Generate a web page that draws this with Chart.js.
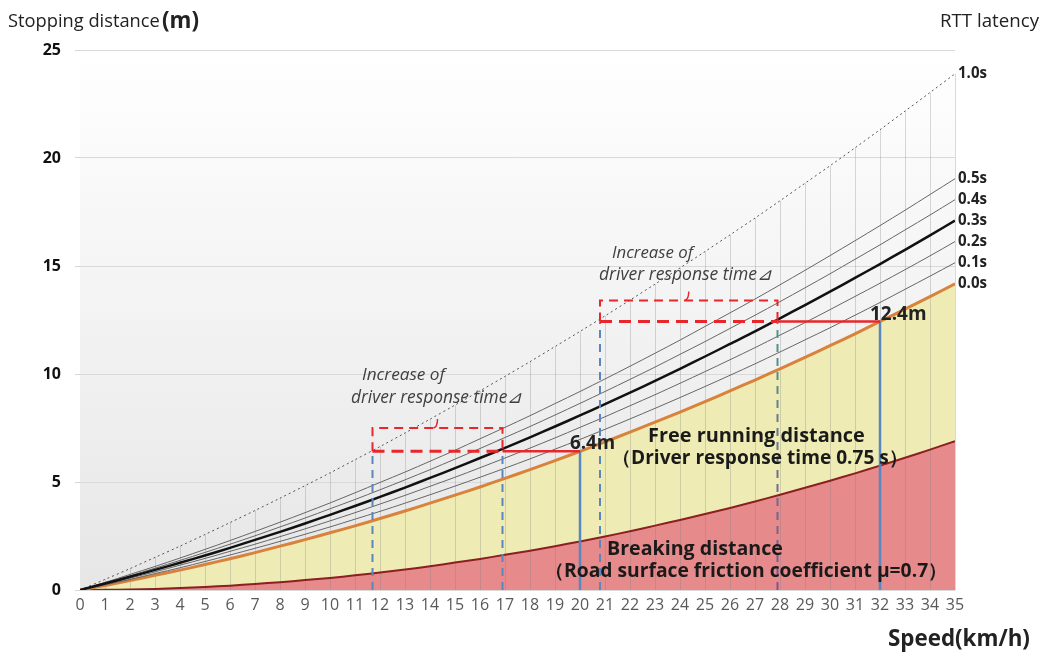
<!doctype html>
<html>

<head>
	<title>Stopping distance vs speed</title>
	<script src="https://cdn.jsdelivr.net/npm/chart.js@4/dist/chart.umd.min.js"></script>
	<style>
	body { margin: 0; background: #fff; }
	</style>
</head>

<body>
	<canvas id="canvas" width="1042" height="652"></canvas>
	<script>
		// speed in km/h, distances in m
		const speeds = [0, 1, 2, 3, 4, 5, 6, 7, 8, 9, 10, 11, 12, 13, 14, 15, 16, 17, 18, 19, 20, 21, 22, 23, 24, 25, 26, 27, 28, 29, 30, 31, 32, 33, 34, 35];
		const braking = [0, 0.01, 0.02, 0.05, 0.09, 0.14, 0.20, 0.28, 0.36, 0.46, 0.56, 0.68, 0.81, 0.95, 1.10, 1.27, 1.44, 1.63, 1.82, 2.03, 2.25, 2.48, 2.72, 2.98, 3.24, 3.52, 3.80, 4.10, 4.41, 4.73, 5.06, 5.40, 5.76, 6.12, 6.50, 6.89];
		const rtt00 = [0, 0.21, 0.44, 0.68, 0.92, 1.18, 1.45, 1.73, 2.03, 2.33, 2.65, 2.97, 3.31, 3.66, 4.02, 4.39, 4.77, 5.17, 5.57, 5.99, 6.42, 6.86, 7.31, 7.77, 8.24, 8.72, 9.22, 9.72, 10.24, 10.77, 11.31, 11.86, 12.43, 13.00, 13.58, 14.18];
		const rtt01 = [0, 0.24, 0.49, 0.76, 1.03, 1.32, 1.62, 1.93, 2.25, 2.58, 2.92, 3.28, 3.64, 4.02, 4.41, 4.81, 5.22, 5.64, 6.07, 6.52, 6.97, 7.44, 7.92, 8.41, 8.91, 9.42, 9.94, 10.47, 11.02, 11.58, 12.14, 12.72, 13.31, 13.92, 14.53, 15.15];
		const rtt02 = [0, 0.27, 0.55, 0.84, 1.15, 1.46, 1.79, 2.12, 2.47, 2.83, 3.20, 3.58, 3.98, 4.38, 4.80, 5.22, 5.66, 6.11, 6.57, 7.04, 7.53, 8.02, 8.53, 9.04, 9.57, 10.11, 10.66, 11.22, 11.80, 12.38, 12.98, 13.59, 14.20, 14.83, 15.47, 16.13];
		const rtt03 = [0, 0.30, 0.61, 0.93, 1.26, 1.60, 1.95, 2.32, 2.69, 3.08, 3.48, 3.89, 4.31, 4.74, 5.19, 5.64, 6.11, 6.58, 7.07, 7.57, 8.08, 8.61, 9.14, 9.68, 10.24, 10.81, 11.39, 11.97, 12.58, 13.19, 13.81, 14.45, 15.09, 15.75, 16.42, 17.10];
		const rtt04 = [0, 0.33, 0.66, 1.01, 1.37, 1.74, 2.12, 2.51, 2.92, 3.33, 3.76, 4.19, 4.64, 5.10, 5.57, 6.06, 6.55, 7.06, 7.57, 8.10, 8.64, 9.19, 9.75, 10.32, 10.91, 11.50, 12.11, 12.72, 13.35, 13.99, 14.64, 15.31, 15.98, 16.67, 17.36, 18.07];
		const rtt05 = [0, 0.35, 0.72, 1.09, 1.48, 1.88, 2.29, 2.71, 3.14, 3.58, 4.03, 4.50, 4.98, 5.46, 5.96, 6.47, 7.00, 7.53, 8.07, 8.63, 9.19, 9.77, 10.36, 10.96, 11.57, 12.20, 12.83, 13.47, 14.13, 14.80, 15.48, 16.17, 16.87, 17.58, 18.31, 19.04];
		const rtt10 = [0, 0.49, 0.99, 1.51, 2.03, 2.57, 3.12, 3.68, 4.25, 4.83, 5.42, 6.03, 6.64, 7.27, 7.91, 8.56, 9.22, 9.89, 10.57, 11.27, 11.97, 12.69, 13.42, 14.16, 14.91, 15.67, 16.44, 17.22, 18.02, 18.83, 19.64, 20.47, 21.31, 22.17, 23.03, 23.90];
		const rttLabels = ['1.0s', '0.5s', '0.4s', '0.3s', '0.2s', '0.1s', '0.0s'];
		const yTicks = [0, 5, 10, 15, 20, 25];

		// the two worked examples: 20 km/h -> 6.4m, 32 km/h -> 12.4m
		const examples = [
			{ from: 11.7, mid: 16.9, to: 20, dist: 6.42, top: 7.5, label: '6.4m' },
			{ from: 20.8, mid: 27.9, to: 32, dist: 12.43, top: 13.4, label: '12.4m' }
		];

		const FONT = '"Open Sans", "Noto Sans", sans-serif';
		const pts = (ys) => ys.map((y, i) => ({ x: speeds[i], y: y }));

		// draw text left-aligned at x, scaled so that it spans the given width
		function fitText(ctx, text, x, y, width, style) {
			ctx.font = style + ' 20px ' + FONT;
			const size = 20 * width / ctx.measureText(text).width;
			ctx.font = style + ' ' + size.toFixed(2) + 'px ' + FONT;
			ctx.fillText(text, x, y);
			return size;
		}

		const overlay = {
			id: 'overlay',
			beforeDraw(chart) {
				const { ctx, chartArea: a } = chart;
				const g = ctx.createLinearGradient(0, a.top, 0, a.bottom);
				g.addColorStop(0, '#ffffff');
				g.addColorStop(1, '#e6e6e6');
				ctx.save();
				ctx.fillStyle = g;
				ctx.fillRect(a.left, a.top, a.right - a.left, a.bottom - a.top);
				ctx.restore();
			},
			beforeDatasetsDraw(chart) {
				// drop lines from the 1.0s curve
				const { ctx, scales: { x, y } } = chart;
				ctx.save();
				ctx.strokeStyle = 'rgba(128,128,128,0.3)';
				ctx.lineWidth = 1;
				speeds.forEach((s, i) => {
					if (s === 0) return;
					const px = Math.round(x.getPixelForValue(s)) + 0.5;
					ctx.beginPath();
					ctx.moveTo(px, y.getPixelForValue(rtt10[i]));
					ctx.lineTo(px, y.getPixelForValue(0));
					ctx.stroke();
				});
				ctx.restore();
			},
			afterDatasetsDraw(chart) {
				const { ctx, scales: { x, y } } = chart;
				const X = (v) => x.getPixelForValue(v);
				const Y = (v) => y.getPixelForValue(v);
				const seg = (x1, y1, x2, y2, color, w, dash) => {
					ctx.beginPath();
					ctx.strokeStyle = color;
					ctx.lineWidth = w;
					ctx.setLineDash(dash || []);
					ctx.moveTo(X(x1), Y(y1));
					ctx.lineTo(X(x2), Y(y2));
					ctx.stroke();
				};
				ctx.save();
				examples.forEach((e, k) => {
					// bracket box
					ctx.beginPath();
					ctx.strokeStyle = '#e8262b';
					ctx.lineWidth = 2;
					ctx.setLineDash([9, 6]);
					ctx.moveTo(X(e.from), Y(e.dist));
					ctx.lineTo(X(e.from), Y(e.top));
					ctx.lineTo(X(e.mid), Y(e.top));
					ctx.lineTo(X(e.mid), Y(e.dist));
					ctx.stroke();
					const cx = X((e.from + e.mid) / 2);
					ctx.setLineDash([]);
					ctx.lineWidth = 1.5;
					ctx.beginPath();
					ctx.moveTo(cx - 4, Y(e.top));
					ctx.quadraticCurveTo(cx, Y(e.top) - 1, cx, Y(e.top) - 9);
					ctx.stroke();

					seg(e.from, 0, e.from, e.dist, '#5a86c0', 2, [8, 6]);
					if (k === 0) {
						seg(e.mid, 0, e.mid, e.dist, '#5a86c0', 2, [8, 6]);
					} else {
						const g = ctx.createLinearGradient(0, Y(e.dist), 0, Y(0));
						g.addColorStop(0, '#4f9a86');
						g.addColorStop(1, '#8a4f8f');
						seg(e.mid, 0, e.mid, e.dist, g, 2, [8, 6]);
					}
					seg(e.to, 0, e.to, e.dist, '#5a86c0', 2.5);
					seg(e.from, e.dist, e.mid, e.dist, '#e8262b', 3, [12, 7]);
					seg(e.mid, e.dist, e.to, e.dist, '#e8262b', 2.5);
				});
				ctx.restore();
			},
			afterDraw(chart) {
				const { ctx, scales: { x, y } } = chart;
				const X = (v) => x.getPixelForValue(v);
				const Y = (v) => y.getPixelForValue(v);
				ctx.save();
				ctx.textBaseline = 'alphabetic';
				ctx.textAlign = 'left';
				ctx.fillStyle = '#222';

				// axis titles
				fitText(ctx, 'Stopping distance', 8, 27, 152, 'normal');
				fitText(ctx, '(m)', 162, 28, 37, 'bold');
				fitText(ctx, 'RTT latency', 940, 27, 99, 'normal');
				fitText(ctx, 'Speed(km/h)', 888, 646, 142, 'bold');

				// series labels at the right end
				const ends = [rtt10, rtt05, rtt04, rtt03, rtt02, rtt01, rtt00];
				ctx.textBaseline = 'middle';
				ends.forEach((arr, i) => {
					fitText(ctx, rttLabels[i], X(35) + 3, Y(arr[arr.length - 1]), 29, 'bold');
				});

				// example values
				ctx.textBaseline = 'alphabetic';
				examples.forEach((e) => {
					fitText(ctx, e.label, X(e.to) - 10, Y(e.dist) - 2, e.label.length * 11.3, 'bold');
				});

				// notes
				ctx.fillStyle = '#404040';
				fitText(ctx, 'Increase of', 362, 380, 83, 'italic');
				fitText(ctx, 'driver response time⊿', 351, 403, 171, 'italic');
				fitText(ctx, 'Increase of', 612, 258, 81, 'italic');
				fitText(ctx, 'driver response time⊿', 599, 280, 173, 'italic');

				ctx.fillStyle = '#1a1a1a';
				fitText(ctx, 'Free running distance', 648, 442, 217, 'bold');
				fitText(ctx, '（Driver response time 0.75 s）', 612, 464, 296, 'bold');
				fitText(ctx, 'Breaking distance', 607, 555, 176, 'bold');
				fitText(ctx, '（Road surface friction coefficient μ=0.7）', 545, 577, 403, 'bold');
				ctx.restore();
			}
		};

		const thin = (label, data) => ({
			label: label,
			data: pts(data),
			borderColor: '#666',
			borderWidth: 1,
			fill: false
		});

		window.onload = function() {
			const ctx = document.getElementById('canvas').getContext('2d');
			window.myChart = new Chart(ctx, {
				type: 'line',
				data: {
					datasets: [
						{ label: '0.3s', data: pts(rtt03), borderColor: '#111', borderWidth: 2.5, fill: false },
						{ label: '1.0s', data: pts(rtt10), borderColor: '#555', borderWidth: 1, borderDash: [2, 3], fill: false },
						thin('0.5s', rtt05),
						thin('0.4s', rtt04),
						thin('0.2s', rtt02),
						thin('0.1s', rtt01),
						{ label: '0.0s', data: pts(rtt00), borderColor: '#d9823b', borderWidth: 3, fill: '+1', backgroundColor: '#eeecb4' },
						{ label: 'braking', data: pts(braking), borderColor: '#8c1f1f', borderWidth: 2, fill: 'origin', backgroundColor: '#e68a8c' }
					]
				},
				options: {
					responsive: false,
					animation: false,
					elements: { point: { radius: 0 }, line: { tension: 0.3 } },
					layout: { padding: { top: 50, right: 87, left: 0, bottom: 0 } },
					plugins: {
						legend: { display: false },
						tooltip: { enabled: false },
						filler: { drawTime: 'beforeDatasetsDraw' }
					},
					scales: {
						x: {
							type: 'linear',
							min: 0,
							max: 35,
							afterFit(scale) { scale.height = 62; },
							grid: { display: false, drawTicks: false },
							border: { display: false },
							ticks: {
								stepSize: 1,
								autoSkip: false,
								maxRotation: 0,
								padding: 6,
								color: '#595959',
								font: { family: FONT, size: 16 }
							}
						},
						y: {
							min: 0,
							max: 25,
							afterFit(scale) { scale.width = 80; },
							afterBuildTicks(scale) { scale.ticks = yTicks.map((v) => ({ value: v })); },
							grid: { color: '#d9d9d9', tickLength: 5 },
							border: { display: false },
							ticks: {
								padding: 14,
								color: '#111',
								font: { family: FONT, size: 16, weight: 'bold' }
							}
						}
					}
				},
				plugins: [overlay]
			});
		};
	</script>
</body>

</html>
